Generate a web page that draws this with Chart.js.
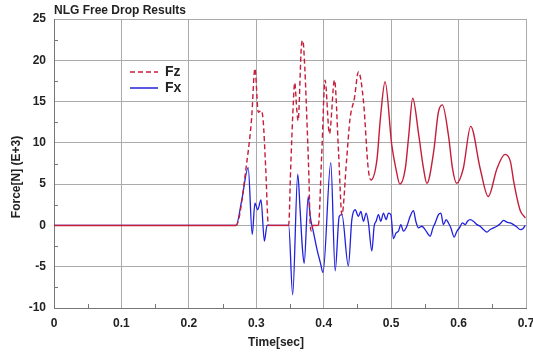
<!DOCTYPE html>
<html>
<head>
<meta charset="utf-8">
<script src="https://cdn.jsdelivr.net/npm/chart.js@4"></script>
<style>
    body { margin: 0; background: #fff; }
    canvas { display: block; }
</style>
</head>
<body>
<canvas id="dropChart" width="533" height="357"></canvas>
<script>
// ── Data (time in sec, force in kN) ────────────────────
const fzTime  = [0, 0.270, 0.286, 0.293, 0.298, 0.303, 0.307, 0.310, 0.314, 0.318,
                 0.348, 0.351, 0.355, 0.357, 0.360, 0.362, 0.367, 0.369, 0.372, 0.375,
                 0.378, 0.380, 0.382, 0.384, 0.392, 0.397, 0.402, 0.4085, 0.416, 0.422,
                 0.427, 0.434, 0.439, 0.4455, 0.4515, 0.459, 0.466, 0.470, 0.479, 0.484,
                 0.491, 0.501, 0.507, 0.513, 0.521, 0.526, 0.532, 0.541, 0.548, 0.553,
                 0.563, 0.570, 0.576, 0.585, 0.591, 0.597, 0.607, 0.618, 0.632, 0.644,
                 0.657, 0.669, 0.677, 0.682, 0.691, 0.699];
const fzForce = [0, 0, 7.7, 12.9, 19.0, 13.7, 13.9, 12.9, 6.9, 0,
                 0, 6.9, 15.0, 17.3, 14.1, 12.7, 21.8, 22.4, 19.0, 12.9,
                 6.0, 0, -0.7, 0, 0, 8.5, 17.6, 11.1, 17.6, 8.9,
                 1.3, 8.0, 12.9, 15.4, 18.6, 15.0, 6.9, 5.5, 8.0, 12.9,
                 17.4, 9.7, 6.9, 5.0, 6.9, 10.8, 15.4, 10.9, 6.9, 5.1,
                 8.9, 13.7, 14.6, 10.9, 6.9, 5.1, 6.9, 12.0, 6.9, 3.5,
                 6.9, 8.6, 7.7, 5.2, 1.9, 0.9];

const fxTime  = [0, 0.270, 0.2785, 0.288, 0.294, 0.298, 0.302, 0.307, 0.312, 0.316,
                 0.348, 0.354, 0.3615, 0.365, 0.3685, 0.371, 0.377, 0.380, 0.385, 0.390,
                 0.395, 0.399, 0.4105, 0.417, 0.423, 0.427, 0.4365, 0.4417, 0.4466, 0.4515,
                 0.455, 0.459, 0.463, 0.4663, 0.4714, 0.4748, 0.4777, 0.4812, 0.4847, 0.4886,
                 0.4926, 0.496, 0.4996, 0.5034, 0.5074, 0.5108, 0.5144, 0.5182, 0.5233, 0.5282,
                 0.5331, 0.5366, 0.5405, 0.5455, 0.5504, 0.5579, 0.5619, 0.5653, 0.5702, 0.5737,
                 0.5776, 0.5816, 0.585, 0.5886, 0.5935, 0.5975, 0.6013, 0.6058, 0.6098, 0.6132,
                 0.6172, 0.6221, 0.6272, 0.632, 0.6369, 0.642, 0.6469, 0.6518, 0.6568, 0.6617,
                 0.6666, 0.6717, 0.6766, 0.6815, 0.6865, 0.6914, 0.6954, 0.6988];
const fxForce = [0, 0, 3.1, 7.0, -1.1, 2.7, 1.9, 3.1, -1.9, 0,
                 0, -8.4, 6.2, 1.9, -2.9, -4.6, 3.5, 1.1, -0.9, -2.9,
                 -4.5, -5.7, 7.6, -5.5, 1.1, 1.3, -4.9, 0.7, 1.9, 1.1,
                 1.7, 0.5, 1.5, 0.3, -3.1, -0.1, 0.5, 1.3, 0.5, 1.5,
                 0.7, 1.5, 1.3, -1.6, -0.9, -0.7, 0.1, -0.7, -0.1, 1.1,
                 1.8, 0.5, -0.3, -0.1, -0.5, -1.3, -0.3, 0.3, 1.3, 1.5,
                 0.1, 0.7, 0.3, -0.3, -1.4, -0.7, -0.3, 0.3, 0.1, 0.5,
                 0.7, 0.5, 0.1, -0.1, -0.5, -0.8, -0.5, -0.3, -0.1, 0.2,
                 0.6, 0.4, 0.3, 0.1, -0.2, -0.5, -0.4, 0.0];

const xTicks      = [0, 0.1, 0.2, 0.3, 0.4, 0.5, 0.6, 0.7];
const xMinorTicks = [0.05, 0.15, 0.25, 0.35, 0.45, 0.55, 0.65];
const yTicks      = [-10, -5, 0, 5, 10, 15, 20, 25];
const yMinorTicks = [-7.5, -2.5, 2.5, 7.5, 12.5, 17.5, 22.5];

const FZ_COLOR = "#c41e3a";
const FX_COLOR = "#2020dd";
const DASH_END = 0.47;
const FONT = "'Liberation Sans', Arial, sans-serif";

// ── Decorations: title, axis titles, legend, minor ticks ─
const decorations = {
    id: "decorations",
    afterDatasetsDraw(chart) {
        const ctx = chart.ctx;
        const area = chart.chartArea;
        const xs = chart.scales.x, ys = chart.scales.y;

        ctx.save();
        ctx.strokeStyle = "#777";
        ctx.lineWidth = 1;
        ctx.beginPath();
        xMinorTicks.forEach(v => {
            const px = Math.round(xs.getPixelForValue(v)) + 0.5;
            ctx.moveTo(px, area.bottom);
            ctx.lineTo(px, area.bottom - 4);
        });
        yMinorTicks.forEach(v => {
            const py = Math.round(ys.getPixelForValue(v)) + 0.5;
            ctx.moveTo(area.left, py);
            ctx.lineTo(area.left + 4, py);
        });
        ctx.stroke();

        ctx.fillStyle = "#222";
        ctx.font = "bold 12px " + FONT;
        ctx.textBaseline = "middle";
        ctx.textAlign = "left";
        ctx.fillText("NLG Free Drop Results", area.left, 11);

        ctx.textAlign = "center";
        ctx.fillText("Time[sec]", 276, 343);

        ctx.save();
        ctx.translate(17, 177);
        ctx.rotate(-Math.PI / 2);
        ctx.fillText("Force[N] (E+3)", 0, 0);
        ctx.restore();

        // legend
        ctx.lineWidth = 1.5;
        ctx.strokeStyle = FZ_COLOR;
        ctx.setLineDash([5, 3]);
        ctx.beginPath();
        ctx.moveTo(130, 72);
        ctx.lineTo(158, 72);
        ctx.stroke();
        ctx.setLineDash([]);
        ctx.strokeStyle = FX_COLOR;
        ctx.beginPath();
        ctx.moveTo(130, 88);
        ctx.lineTo(158, 88);
        ctx.stroke();

        ctx.font = "bold 14px " + FONT;
        ctx.textAlign = "left";
        ctx.fillText("Fz", 165, 72);
        ctx.fillText("Fx", 165, 88);
        ctx.restore();
    }
};

const toPoints = (ts, vs) => ts.map((t, i) => ({ x: t, y: vs[i] }));

new Chart(document.getElementById("dropChart"), {
    type: "line",
    data: {
        datasets: [
            {
                label: "Fz",
                data: toPoints(fzTime, fzForce),
                borderColor: FZ_COLOR,
                borderWidth: 1.4,
                borderDash: [],
                pointRadius: 0,
                cubicInterpolationMode: "monotone",
                segment: {
                    borderDash: c => (c.p0.parsed.x < DASH_END &&
                        !(c.p0.parsed.y === 0 && c.p1.parsed.y === 0)) ? [5, 3] : []
                }
            },
            {
                label: "Fx",
                data: toPoints(fxTime, fxForce),
                borderColor: FX_COLOR,
                borderWidth: 1.3,
                pointRadius: 0,
                cubicInterpolationMode: "monotone"
            }
        ]
    },
    options: {
        responsive: false,
        animation: false,
        events: [],
        layout: { padding: { top: 19, right: 7, left: 0, bottom: 0 } },
        plugins: {
            legend: { display: false },
            title: { display: false },
            tooltip: { enabled: false }
        },
        scales: {
            x: {
                type: "linear",
                min: 0, max: 0.7,
                afterBuildTicks: s => { s.ticks = xTicks.map(v => ({ value: v })); },
                afterFit: s => { s.height = 49; s.paddingLeft = 0; s.paddingRight = 0; },
                grid: { color: "#aaa", drawTicks: false },
                border: { color: "#777" },
                ticks: {
                    padding: 8,
                    color: "#222",
                    font: { family: FONT, size: 12, weight: "bold" },
                    callback: v => String(+v.toFixed(1))
                }
            },
            y: {
                min: -10, max: 25,
                afterBuildTicks: s => { s.ticks = yTicks.map(v => ({ value: v })); },
                afterFit: s => { s.width = 54; s.paddingTop = 0; s.paddingBottom = 0; },
                grid: { color: "#aaa", drawTicks: false },
                border: { color: "#777" },
                ticks: {
                    padding: 8,
                    color: "#222",
                    font: { family: FONT, size: 12, weight: "bold" }
                }
            }
        }
    },
    plugins: [decorations]
});
</script>
</body>
</html>
